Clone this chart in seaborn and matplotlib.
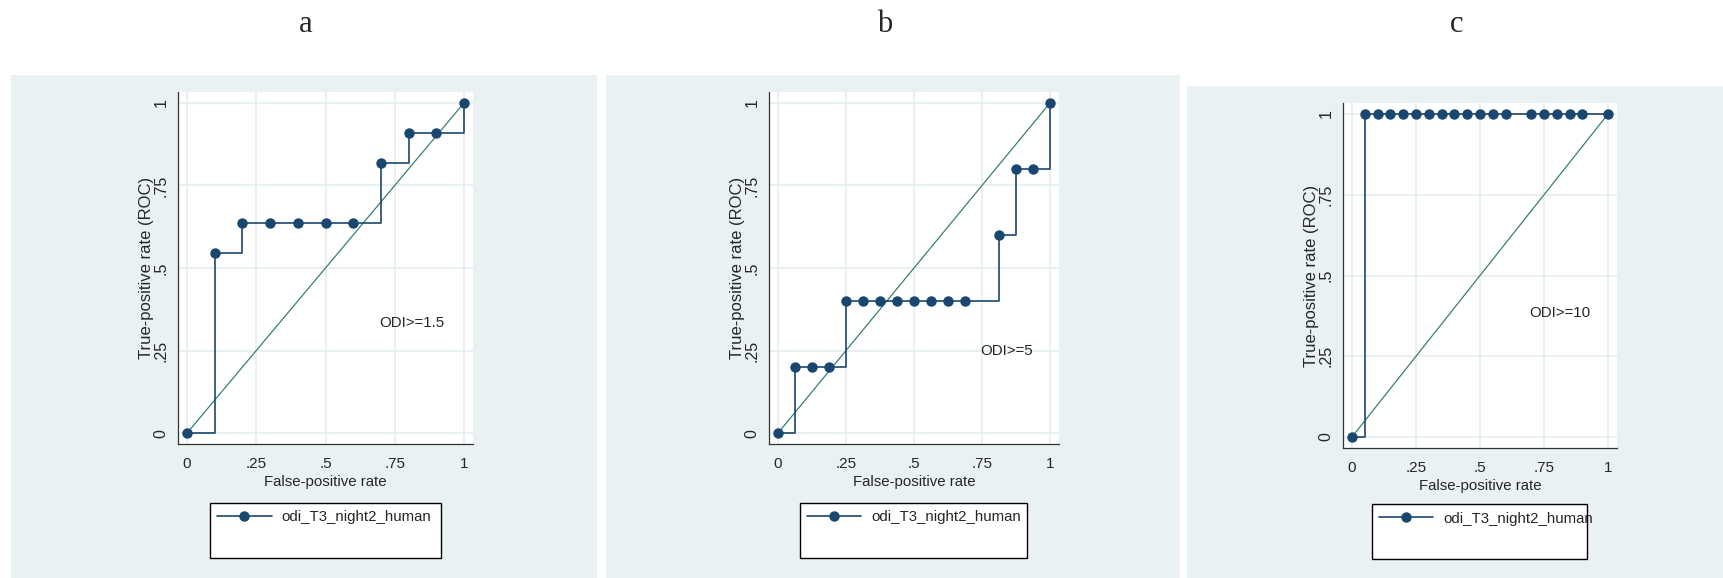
import matplotlib
matplotlib.use("Agg")
import matplotlib.pyplot as plt
import seaborn as sns
from matplotlib.lines import Line2D
from matplotlib.patches import Rectangle

# ---- data ----
PANEL_TITLES = ["a", "b", "c"]

FPR_A = [0, 0.1, 0.2, 0.3, 0.4, 0.5, 0.6, 0.7, 0.8, 0.9, 1]
TPR_A = [0, 0.545, 0.636, 0.636, 0.636, 0.636, 0.636, 0.818, 0.909, 0.909, 1]

FPR_B = [0, 0.0625, 0.125, 0.1875, 0.25, 0.3125, 0.375, 0.4375, 0.5, 0.5625,
         0.625, 0.6875, 0.8125, 0.875, 0.9375, 1]
TPR_B = [0, 0.2, 0.2, 0.2, 0.4, 0.4, 0.4, 0.4, 0.4, 0.4, 0.4, 0.4, 0.6, 0.8, 0.8, 1]

FPR_C = [0, 0.05, 0.1, 0.15, 0.2, 0.25, 0.3, 0.35, 0.4, 0.45, 0.5, 0.55, 0.6,
         0.7, 0.75, 0.8, 0.85, 0.9, 1]
TPR_C = [0, 1, 1, 1, 1, 1, 1, 1, 1, 1, 1, 1, 1, 1, 1, 1, 1, 1, 1]

CUTOFF_LABELS = ["ODI>=1.5", "ODI>=5", "ODI>=10"]
SERIES_NAME = "odi_T3_night2_human"
DIAG = [0, 1]

TICKS = [0, 0.25, 0.5, 0.75, 1]
TICK_LABELS = ["0", ".25", ".5", ".75", "1"]

# ---- layout (pixels of a 1724x578 canvas) ----
W, H = 1724, 578
NAVY = "#1a476f"
TEAL = "#3a7f6f"
BG = "#eaf1f3"
GRID = "#e4edf0"

# background box, axes box, legend box (x0, y0, x1, y1), data padding, text pos, title x
LAYOUT = [
    dict(bg=(11, 75, 597, 578), ax=(178, 92, 473, 444), leg=(210, 503, 441),
         pad_x=0.0325, pad_y=0.033, txt=(0.81, 0.333), title_x=306),
    dict(bg=(606, 75, 1180, 578), ax=(769, 92, 1059, 444), leg=(800, 503, 1027),
         pad_x=0.033, pad_y=0.033, txt=(0.84, 0.25), title_x=885),
    dict(bg=(1187, 86, 1724, 578), ax=(1343, 103, 1617, 448), leg=(1372, 504, 1587),
         pad_x=0.035, pad_y=0.034, txt=(0.81, 0.385), title_x=1457),
]

sns.set_style("white")
plt.rcParams["font.family"] = ["Liberation Sans", "DejaVu Sans"]


def fx(px):
    return px / W


def fy(py):
    return 1 - py / H


def dibujar_panel(fig, fpr, tpr, etiqueta, titulo, lay):
    x0, y0, x1, y1 = lay["bg"]
    fig.patches.append(Rectangle((fx(x0), fy(y1)), fx(x1 - x0), (y1 - y0) / H,
                                 transform=fig.transFigure, facecolor=BG,
                                 edgecolor="none", zorder=-5))

    a0, b0, a1, b1 = lay["ax"]
    ax = fig.add_axes([fx(a0), fy(b1), fx(a1 - a0), (b1 - b0) / H])
    ax.set_zorder(2)
    ax.set_facecolor("white")

    sns.lineplot(x=DIAG, y=DIAG, ax=ax, color=TEAL, lw=0.9, legend=False,
                 estimator=None, sort=False)
    sns.lineplot(x=fpr, y=tpr, ax=ax, color=NAVY, lw=1.2, marker="o",
                 markersize=7.5, markeredgewidth=0, drawstyle="steps-post",
                 estimator=None, sort=False, legend=False)

    ax.set_xlim(-lay["pad_x"], 1 + lay["pad_x"])
    ax.set_ylim(-lay["pad_y"], 1 + lay["pad_y"])
    ax.set_xticks(TICKS)
    ax.set_xticklabels(TICK_LABELS, fontsize=11)
    ax.set_yticks(TICKS)
    ax.set_yticklabels(TICK_LABELS, fontsize=11.5, rotation=90, va="center")
    ax.tick_params(axis="x", direction="out", length=4.3, width=0.8,
                   color="#333333", pad=5)
    ax.tick_params(axis="y", direction="out", length=4.3, width=0.8,
                   color="#333333", pad=2.5)
    ax.grid(True, color=GRID, lw=1.2)
    ax.set_axisbelow(True)

    for lado in ["top", "right"]:
        ax.spines[lado].set_visible(False)
    for lado in ["left", "bottom"]:
        ax.spines[lado].set_color("#333333")
        ax.spines[lado].set_linewidth(0.9)

    ax.set_xlabel("False-positive rate", fontsize=10.8, labelpad=3)
    ax.set_ylabel("True-positive rate (ROC)", fontsize=12, labelpad=0)

    tx, ty = lay["txt"]
    ax.text(tx, ty, etiqueta, fontsize=10.8, ha="center", va="center")

    # leyenda estilo Stata: caja con una fila vacia debajo
    l0, l1, l2 = lay["leg"]
    linea = ax.get_lines()[1]
    vacio = Line2D([], [], linestyle="none")
    leg = ax.legend([linea, vacio], [SERIES_NAME, " "], loc="upper left",
                    bbox_to_anchor=(fx(l0), fy(l1), fx(l2 - l0), 0.0),
                    bbox_transform=fig.transFigure, mode="expand",
                    borderaxespad=0, fancybox=False, framealpha=1,
                    edgecolor="black", handlelength=3.6, handletextpad=0.65,
                    borderpad=0.5, labelspacing=0.8,
                    prop={"size": 10.8})
    leg.get_frame().set_linewidth(1.0)

    fig.text(fx(lay["title_x"]), fy(32), titulo, family="Liberation Serif",
             fontsize=22, ha="center", va="baseline")


fig = plt.figure(figsize=(W / 100, H / 100), dpi=100)
datos = [(FPR_A, TPR_A), (FPR_B, TPR_B), (FPR_C, TPR_C)]
for (fpr, tpr), etiqueta, titulo, lay in zip(datos, CUTOFF_LABELS, PANEL_TITLES, LAYOUT):
    dibujar_panel(fig, fpr, tpr, etiqueta, titulo, lay)

fig.savefig("out.png", dpi=100)
plt.close()
